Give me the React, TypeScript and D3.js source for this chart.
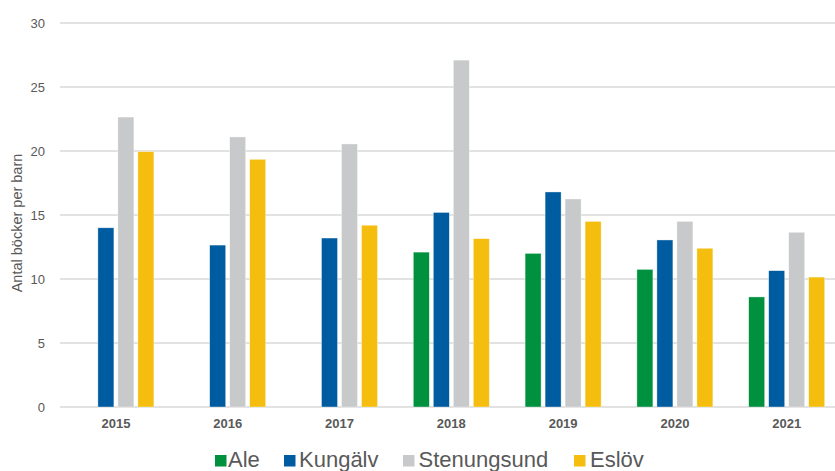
import React from "react";
import * as d3 from "d3";

const years = ["2015", "2016", "2017", "2018", "2019", "2020", "2021"];
const seriesNames = ["Ale", "Kungälv", "Stenungsund", "Eslöv"];
const ale: (number | null)[] = [null, null, null, 12.1, 12.0, 10.75, 8.6];
const kungalv = [14.0, 12.65, 13.2, 15.2, 16.8, 13.05, 10.65];
const stenungsund = [22.65, 21.1, 20.55, 27.1, 16.25, 14.5, 13.65];
const eslov = [19.95, 19.35, 14.2, 13.15, 14.5, 12.4, 10.15];
const yTicks = [0, 5, 10, 15, 20, 25, 30];
const colors = ["#00913F", "#005CA0", "#C8C9CB", "#F5BE0E"];
const yLabel = "Antal böcker per barn";

export default function App() {
  const W = 835, H = 471;
  const left = 60, right = 842.6, top = 23, bottom = 407;
  const data = [ale, kungalv, stenungsund, eslov];
  const x = d3.scaleBand<string>().domain(years).range([left, right]).padding(0);
  const inner = d3.scaleBand<string>().domain(seriesNames).range([-38, 38]).paddingInner(0.2).paddingOuter(0);
  const y = d3.scaleLinear().domain([0, 30]).range([bottom, top]);
  const font = "'Liberation Sans', Arial, sans-serif";
  const textColor = "#595959";

  const legendItems = [
    { x: 215, tx: 228 },
    { x: 284, tx: 299 },
    { x: 403, tx: 418.5 },
    { x: 574, tx: 590 },
  ];

  return (
    <svg width={W} height={H} style={{ position: "absolute", left: 0, top: 0, background: "#fff" }} fontFamily={font}>
      {yTicks.map((t) => (
        <g key={t}>
          <line x1={left} x2={W} y1={y(t)} y2={y(t)} stroke="#D9D9D9" strokeWidth={1.3} />
          <text x={45} y={y(t)} dy="0.35em" textAnchor="end" fontSize={13} fill={textColor}>{t}</text>
        </g>
      ))}
      {years.map((yr, i) => (
        <g key={yr} transform={`translate(${(x(yr) as number) + x.bandwidth() / 2},0)`}>
          {data.map((s, j) => {
            const v = s[i];
            if (v == null) return null;
            return (
              <rect key={j} x={inner(seriesNames[j]) as number} width={inner.bandwidth()} y={y(v)} height={y(0) - y(v)}
                fill={colors[j]} stroke="#ffffff" strokeOpacity={0.6} strokeWidth={0.6} />
            );
          })}
          <text x={0} y={428} textAnchor="middle" fontSize={13} fontWeight="bold" fill={textColor}>{yr}</text>
        </g>
      ))}
      <text transform={`translate(22,${(top + bottom) / 2 + 8}) rotate(-90)`} textAnchor="middle" fontSize={14.5} fill={textColor}>{yLabel}</text>
      {seriesNames.map((n, j) => (
        <g key={n}>
          <rect x={legendItems[j].x} y={455} width={11.5} height={11.5} fill={colors[j]} />
          <text x={legendItems[j].tx} y={467} fontSize={22} fill={textColor}>{n}</text>
        </g>
      ))}
    </svg>
  );
}
